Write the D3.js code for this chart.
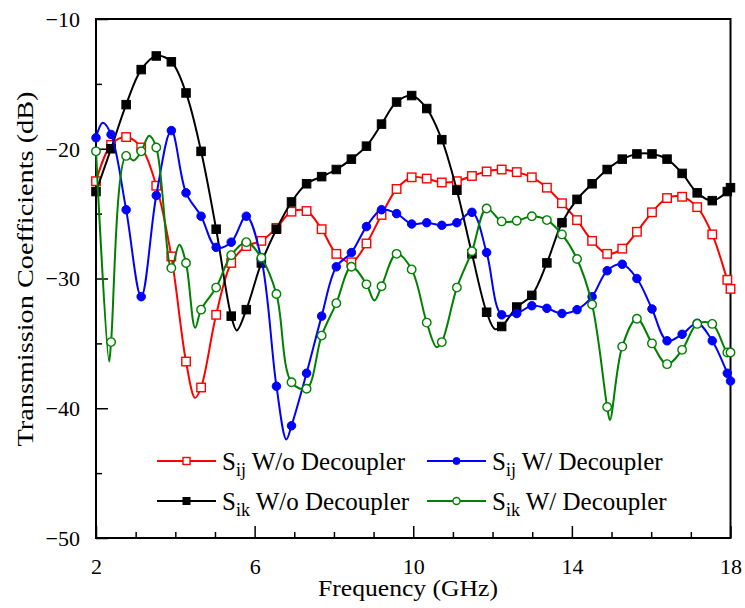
<!DOCTYPE html>
<html>
<head>
<meta charset="utf-8">
<script src="https://cdn.jsdelivr.net/npm/d3@7/dist/d3.min.js"></script>
<style>
  body { margin: 0; background: #fff; }
  svg text { font-family: "Liberation Serif", "Times New Roman", serif; fill: #000; }
</style>
</head>
<body>
<div id="chart"></div>
<script>
// marker frequencies (GHz)
var freqs = [2.00, 2.38, 2.76, 3.14, 3.52, 3.90, 4.27, 4.65, 5.03, 5.41, 5.79, 6.17, 6.55, 6.93, 7.31,
    7.69, 8.06, 8.44, 8.82, 9.20, 9.58, 9.96, 10.34, 10.72, 11.10, 11.48, 11.85, 12.23, 12.61, 12.99,
    13.37, 13.75, 14.13, 14.51, 14.89, 15.27, 15.64, 16.02, 16.40, 16.78, 17.16, 17.54, 17.92, 18.00];

// Sij W/o Decoupler (red, open square)
var sijWo = [-22.5, -19.7, -19.1, -19.9, -22.85, -28.3, -36.4, -38.4, -32.8, -28.8, -27.5, -27.1, -26.1,
    -24.85, -24.8, -26.2, -28.1, -28.75, -27.3, -25.1, -23.1, -22.2, -22.3, -22.6, -22.5, -22.1, -21.75,
    -21.6, -21.8, -22.2, -23.0, -24.2, -25.5, -27.1, -28.1, -27.7, -26.4, -24.9, -23.8, -23.7, -24.5,
    -26.6, -30.1, -30.8];
// Sij W/ Decoupler (blue, filled circle)
var sijW = [-19.15, -18.9, -24.7, -31.4, -23.6, -18.6, -23.4, -25.2, -27.6, -27.2, -25.2, -28.5, -38.3,
    -41.35, -37.3, -32.9, -29.1, -28.0, -26.0, -24.7, -25.0, -25.8, -25.7, -25.9, -25.7, -24.9, -28.0,
    -32.8, -32.7, -32.1, -32.3, -32.7, -32.4, -31.4, -29.4, -28.9, -30.0, -32.35, -34.8, -34.3, -33.45,
    -34.8, -37.3, -37.9];
// Sik W/o Decoupler (black, filled square)
var sikWo = [-23.3, -20.0, -16.6, -13.9, -12.85, -13.3, -15.7, -20.2, -26.2, -32.9, -32.4, -28.8, -26.2,
    -24.1, -22.7, -22.15, -21.6, -20.8, -19.8, -18.1, -16.4, -15.9, -16.9, -19.3, -23.2, -28.1, -32.6,
    -33.7, -32.2, -31.3, -28.8, -25.7, -23.9, -22.7, -21.6, -20.8, -20.4, -20.4, -20.8, -21.9, -23.4,
    -24.0, -23.3, -23.0];
// Sik W/ Decoupler (green, open circle)
var sikW = [-20.2, -34.9, -20.55, -20.2, -19.9, -29.2, -28.8, -32.4, -30.7, -28.2, -27.2, -28.4, -31.2,
    -38.0, -38.5, -34.4, -31.9, -29.1, -30.45, -30.6, -28.1, -29.3, -33.4, -34.9, -30.7, -27.9, -24.6,
    -25.6, -25.55, -25.2, -25.5, -26.6, -28.5, -32.0, -39.9, -35.25, -33.1, -35.0, -36.6, -35.5, -33.5,
    -33.5, -35.7, -35.7];

// peaks and dips of the curves that fall between markers [GHz, dB]
var sijWoExtra = [[4.50, -39.2]];
var sijWExtra = [[2.17, -18.0], [6.80, -42.4]];
var sikWoExtra = [[5.55, -34.0], [12.06, -33.9]];
var sikWExtra = [[2.33, -36.4], [2.95, -20.9], [3.34, -19.0], [4.10, -27.4], [4.50, -33.8],
    [9.02, -31.7], [10.59, -35.3], [14.96, -40.9]];

var xTicks = [2, 6, 10, 14, 18];
var xMinor = [3, 4, 5, 7, 8, 9, 11, 12, 13, 15, 16, 17];
var yTicks = [-10, -20, -30, -40, -50];
var yMinor = [-15, -25, -35, -45];

var series = [
    { sub: 'ij', rest: ' W/o Decoupler', color: '#ff0000', shape: 'square', fill: false, values: sijWo, extra: sijWoExtra },
    { sub: 'ik', rest: ' W/o Decoupler', color: '#000000', shape: 'square', fill: true, values: sikWo, extra: sikWoExtra },
    { sub: 'ij', rest: ' W/ Decoupler', color: '#0000ff', shape: 'circle', fill: true, values: sijW, extra: sijWExtra },
    { sub: 'ik', rest: ' W/ Decoupler', color: '#008000', shape: 'circle', fill: false, values: sikW, extra: sikWExtra }
];

var width = 745, height = 608;
var margin = { top: 19, right: 14.5, bottom: 70, left: 96 };
var w = width - margin.left - margin.right;
var h = height - margin.top - margin.bottom;

var svg = d3.select('#chart').append('svg')
    .attr('width', width)
    .attr('height', height);

var graph = svg.append('g').attr('transform', 'translate(' + margin.left + ',' + margin.top + ')');

var x = d3.scaleLinear().domain([2, 18]).range([0, w]);
var y = d3.scaleLinear().domain([-50, -10]).range([h, 0]);

// axes, ticks point inwards
var xAxis = graph.append('g')
    .attr('transform', 'translate(0,' + h + ')')
    .call(d3.axisBottom(x).tickValues(xTicks).tickSizeInner(-12).tickSizeOuter(0).tickPadding(20));
graph.append('g')
    .attr('transform', 'translate(0,' + h + ')')
    .call(d3.axisBottom(x).tickValues(xMinor).tickSizeInner(-6).tickSizeOuter(0).tickFormat(''));
var yAxis = graph.append('g')
    .call(d3.axisLeft(y).tickValues(yTicks).tickSizeInner(-12).tickSizeOuter(0).tickPadding(16));
graph.append('g')
    .call(d3.axisLeft(y).tickValues(yMinor).tickSizeInner(-6).tickSizeOuter(0).tickFormat(''));

graph.selectAll('.domain').remove();
graph.selectAll('.tick line').attr('stroke', '#000').attr('stroke-width', 1.5);
xAxis.selectAll('text').attr('font-size', 22).attr('font-family', 'Liberation Serif');
yAxis.selectAll('text').attr('font-size', 22).attr('font-family', 'Liberation Serif').attr('dy', '0.34em');

// frame
graph.append('rect')
    .attr('width', w)
    .attr('height', h)
    .attr('fill', 'none')
    .attr('stroke', '#000')
    .attr('stroke-width', 2);

var line = d3.line()
    .x(function(d) { return x(d[0]); })
    .y(function(d) { return y(d[1]); })
    .curve(d3.curveCatmullRom.alpha(0.5));

function drawMarker(sel, s, size) {
    if (s.shape === 'square') {
        sel.append('rect')
            .attr('x', -size / 2).attr('y', -size / 2)
            .attr('width', size).attr('height', size)
            .attr('fill', s.fill ? s.color : '#fff')
            .attr('stroke', s.color)
            .attr('stroke-width', s.fill ? 1 : 1.4);
    } else {
        sel.append('circle')
            .attr('r', size / 2)
            .attr('fill', s.fill ? s.color : '#fff')
            .attr('stroke', s.color)
            .attr('stroke-width', s.fill ? 1 : 1.4);
    }
}

series.forEach(function(s) {
    var pts = freqs.map(function(f, i) { return [f, s.values[i]]; });
    var curvePts = pts.concat(s.extra).sort(function(a, b) { return a[0] - b[0]; });

    graph.append('path')
        .datum(curvePts)
        .attr('fill', 'none')
        .attr('stroke', s.color)
        .attr('stroke-width', 2)
        .attr('stroke-linejoin', 'round')
        .attr('d', line);

    var marks = graph.append('g');
    pts.forEach(function(p) {
        var m = marks.append('g').attr('transform', 'translate(' + x(p[0]) + ',' + y(p[1]) + ')');
        drawMarker(m, s, 8.5);
    });
});

// axis titles
svg.append('text')
    .attr('x', 408)
    .attr('y', 596)
    .attr('text-anchor', 'middle')
    .attr('font-size', 23)
    .attr('textLength', 180)
    .attr('lengthAdjust', 'spacingAndGlyphs')
    .text('Frequency (GHz)');

svg.append('text')
    .attr('transform', 'translate(33,269) rotate(-90)')
    .attr('text-anchor', 'middle')
    .attr('font-size', 24)
    .attr('textLength', 355)
    .attr('lengthAdjust', 'spacingAndGlyphs')
    .text('Transmission Coefficients (dB)');

// legend, two columns by two rows
var legendPos = [
    { lx: 157, ly: 461 },
    { lx: 157, ly: 501 },
    { lx: 427, ly: 461 },
    { lx: 427, ly: 501 }
];
series.forEach(function(s, i) {
    var p = legendPos[i];
    var g = svg.append('g');
    g.append('line')
        .attr('x1', p.lx).attr('x2', p.lx + 59)
        .attr('y1', p.ly).attr('y2', p.ly)
        .attr('stroke', s.color).attr('stroke-width', 2);
    var m = g.append('g').attr('transform', 'translate(' + (p.lx + 29.5) + ',' + p.ly + ')');
    drawMarker(m, s, 7);
    var t = g.append('text')
        .attr('x', p.lx + 65)
        .attr('y', p.ly + 9)
        .attr('font-size', 25);
    t.append('tspan').text('S');
    t.append('tspan').attr('font-size', 18).attr('dy', 6).text(s.sub);
    t.append('tspan').attr('dy', -6).text(s.rest);
});
</script>
</body>
</html>
